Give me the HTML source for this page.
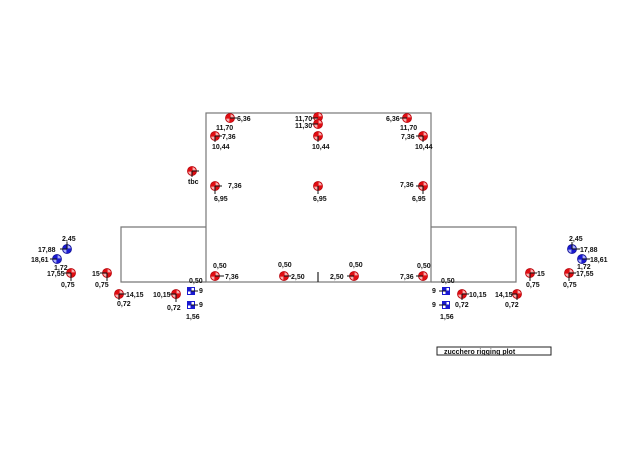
<!DOCTYPE html>
<html><head><meta charset="utf-8"><style>
html,body{margin:0;padding:0;background:#fff;}
svg{display:block;}
text{font-family:"Liberation Sans",Arial,sans-serif;font-size:7px;font-weight:bold;fill:#111;}
</style></head><body>
<svg width="640" height="453" viewBox="0 0 640 453" xmlns="http://www.w3.org/2000/svg">
<defs>
<g id="r">
<circle r="4.6" fill="#e00d12" stroke="#b00008" stroke-width="0.6"/>
<path d="M0.6,-3.8 A3.8,3.8 0 0 1 3.8,-0.6 L0.6,-0.6Z" fill="#f6b0b0"/>
<path d="M-0.6,3.8 A3.8,3.8 0 0 1 -3.8,0.6 L-0.6,0.6Z" fill="#f6b0b0"/>
</g>
<g id="b">
<circle r="4.6" fill="#1a1ad0" stroke="#10108a" stroke-width="0.6"/>
<path d="M0.6,-3.8 A3.8,3.8 0 0 1 3.8,-0.6 L0.6,-0.6Z" fill="#b0b4f4"/>
<path d="M-0.6,3.8 A3.8,3.8 0 0 1 -3.8,0.6 L-0.6,0.6Z" fill="#b0b4f4"/>
</g>
<g id="s">
<rect x="-4" y="-4" width="8" height="8" fill="#1a1ad0"/>
<rect x="0.5" y="-3" width="2.5" height="2.5" fill="#fff"/>
<rect x="-3" y="0.5" width="2.5" height="2.5" fill="#fff"/>
</g>
</defs>
<g fill="none" stroke="#777" stroke-width="1.2">
<rect x="206" y="113" width="225" height="169"/>
<polyline points="206,227 121,227 121,282 206,282"/>
<polyline points="431,227 516,227 516,282 431,282"/>
</g>
<line x1="318" y1="272" x2="318" y2="282" stroke="#222" stroke-width="1.2"/>
<!-- markers -->
<use href="#r" x="230" y="118"/>
<use href="#r" x="215" y="136"/>
<use href="#r" x="318" y="117"/>
<use href="#r" x="318" y="124"/>
<use href="#r" x="318" y="136"/>
<use href="#r" x="407" y="118"/>
<use href="#r" x="423" y="136"/>
<use href="#r" x="192" y="171"/>
<use href="#r" x="215" y="186"/>
<use href="#r" x="318" y="186"/>
<use href="#r" x="423" y="186"/>
<use href="#r" x="215" y="276"/>
<use href="#r" x="284" y="276"/>
<use href="#r" x="354" y="276"/>
<use href="#r" x="423" y="276"/>
<use href="#b" x="67" y="249"/>
<use href="#b" x="57" y="259"/>
<use href="#r" x="71" y="273"/>
<use href="#r" x="107" y="273"/>
<use href="#r" x="119" y="294"/>
<use href="#r" x="176" y="294"/>
<use href="#s" x="191" y="291"/>
<use href="#s" x="191" y="305"/>
<use href="#b" x="572" y="249"/>
<use href="#b" x="582" y="259"/>
<use href="#r" x="569" y="273"/>
<use href="#r" x="530" y="273"/>
<use href="#r" x="517" y="294"/>
<use href="#r" x="462" y="294"/>
<use href="#s" x="446" y="291"/>
<use href="#s" x="446" y="305"/>
<g stroke="#111" stroke-width="1">
<line x1="230" y1="118" x2="237" y2="118"/>
<line x1="215" y1="136" x2="222" y2="136"/>
<line x1="311" y1="118" x2="318" y2="118"/>
<line x1="311" y1="124" x2="318" y2="124"/>
<line x1="400" y1="118" x2="407" y2="118"/>
<line x1="416" y1="136" x2="423" y2="136"/>
<line x1="215" y1="136" x2="215" y2="142"/>
<line x1="318" y1="136" x2="318" y2="142"/>
<line x1="423" y1="136" x2="423" y2="142"/>
<line x1="192" y1="171" x2="199" y2="171"/>
<line x1="192" y1="171" x2="192" y2="177"/>
<line x1="215" y1="186" x2="222" y2="186"/>
<line x1="215" y1="186" x2="215" y2="194"/>
<line x1="318" y1="186" x2="318" y2="194"/>
<line x1="416" y1="186" x2="423" y2="186"/>
<line x1="423" y1="186" x2="423" y2="194"/>
<line x1="215" y1="276" x2="224" y2="276"/>
<line x1="284" y1="276" x2="291" y2="276"/>
<line x1="347" y1="276" x2="354" y2="276"/>
<line x1="416" y1="276" x2="423" y2="276"/>
<line x1="60" y1="249" x2="67" y2="249"/>
<line x1="67" y1="249" x2="67" y2="242"/>
<line x1="50" y1="259" x2="57" y2="259"/>
<line x1="64" y1="273" x2="71" y2="273"/>
<line x1="71" y1="273" x2="71" y2="281"/>
<line x1="100" y1="273" x2="107" y2="273"/>
<line x1="107" y1="273" x2="107" y2="281"/>
<line x1="119" y1="294" x2="126" y2="294"/>
<line x1="119" y1="294" x2="119" y2="300"/>
<line x1="169" y1="294" x2="176" y2="294"/>
<line x1="176" y1="294" x2="176" y2="302"/>
<line x1="191" y1="291" x2="198" y2="291"/>
<line x1="191" y1="305" x2="198" y2="305"/>
<line x1="580" y1="249" x2="572" y2="249"/>
<line x1="572" y1="249" x2="572" y2="242"/>
<line x1="582" y1="259" x2="590" y2="259"/>
<line x1="569" y1="273" x2="576" y2="273"/>
<line x1="569" y1="273" x2="569" y2="281"/>
<line x1="530" y1="273" x2="537" y2="273"/>
<line x1="530" y1="273" x2="530" y2="281"/>
<line x1="510" y1="294" x2="517" y2="294"/>
<line x1="517" y1="294" x2="517" y2="300"/>
<line x1="462" y1="294" x2="469" y2="294"/>
<line x1="462" y1="294" x2="462" y2="300"/>
<line x1="439" y1="291" x2="446" y2="291"/>
<line x1="439" y1="305" x2="446" y2="305"/>
</g>
<!-- labels -->
<text x="237" y="121">6,36</text>
<text x="216" y="130">11,70</text>
<text x="222" y="139">7,36</text>
<text x="212" y="149">10,44</text>
<text x="295" y="121">11,70</text>
<text x="295" y="128">11,30</text>
<text x="312" y="149">10,44</text>
<text x="386" y="121">6,36</text>
<text x="400" y="130">11,70</text>
<text x="401" y="139">7,36</text>
<text x="415" y="149">10,44</text>
<text x="188" y="184">tbc</text>
<text x="228" y="188">7,36</text>
<text x="214" y="201">6,95</text>
<text x="313" y="201">6,95</text>
<text x="400" y="187">7,36</text>
<text x="412" y="201">6,95</text>
<text x="213" y="268">0,50</text>
<text x="225" y="279">7,36</text>
<text x="278" y="267">0,50</text>
<text x="291" y="279">2,50</text>
<text x="349" y="267">0,50</text>
<text x="330" y="279">2,50</text>
<text x="417" y="268">0,50</text>
<text x="400" y="279">7,36</text>
<text x="62" y="241">2,45</text>
<text x="38" y="252">17,88</text>
<text x="31" y="262">18,61</text>
<text x="54" y="270">1,72</text>
<text x="47" y="276">17,55</text>
<text x="61" y="287">0,75</text>
<text x="92" y="276">15</text>
<text x="95" y="287">0,75</text>
<text x="126" y="297">14,15</text>
<text x="117" y="306">0,72</text>
<text x="153" y="297">10,15</text>
<text x="167" y="310">0,72</text>
<text x="189" y="283">0,50</text>
<text x="199" y="293">9</text>
<text x="199" y="307">9</text>
<text x="186" y="319">1,56</text>
<text x="569" y="241">2,45</text>
<text x="580" y="252">17,88</text>
<text x="590" y="262">18,61</text>
<text x="577" y="269">1,72</text>
<text x="576" y="276">17,55</text>
<text x="563" y="287">0,75</text>
<text x="537" y="276">15</text>
<text x="526" y="287">0,75</text>
<text x="495" y="297">14,15</text>
<text x="505" y="307">0,72</text>
<text x="469" y="297">10,15</text>
<text x="455" y="307">0,72</text>
<text x="441" y="283">0,50</text>
<text x="432" y="293">9</text>
<text x="432" y="307">9</text>
<text x="440" y="319">1,56</text>
<rect x="437" y="347" width="114" height="8" fill="none" stroke="#222" stroke-width="1"/>
<text x="444" y="354">zucchero rigging plot</text>
</svg>
</body></html>
